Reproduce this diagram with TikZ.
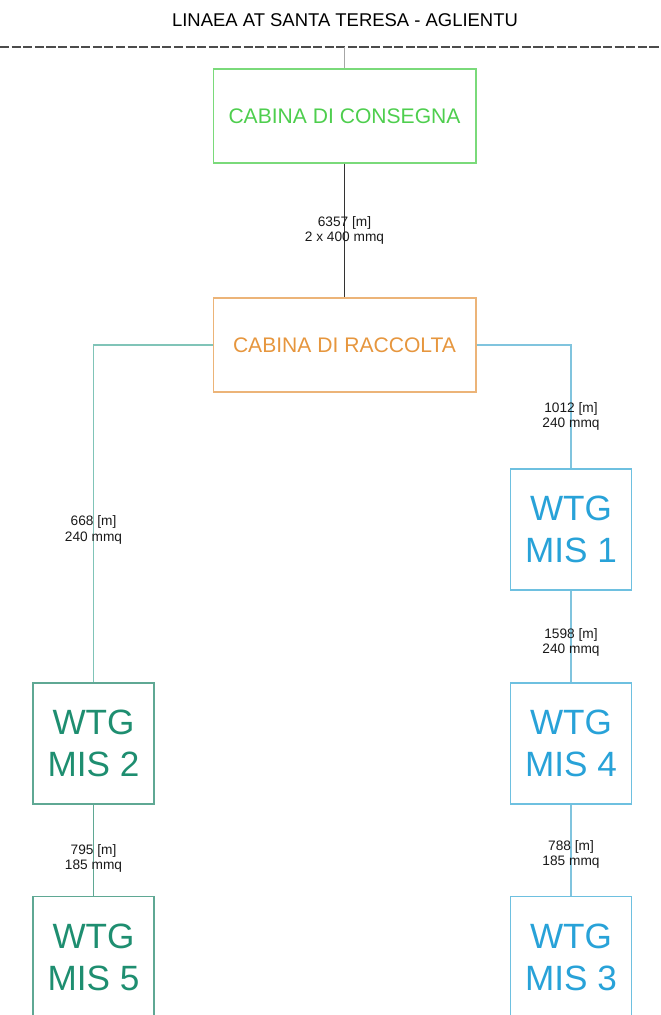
\documentclass[tikz,border=0pt]{standalone}
\usepackage{fontspec}
\setmainfont{Liberation Sans}
\usepackage{tikz}
\usetikzlibrary{positioning}

\definecolor{consegna}{RGB}{78,206,78}
\definecolor{raccolta}{RGB}{230,150,62}
\definecolor{raccline}{RGB}{236,180,120}
\definecolor{misblue}{RGB}{40,162,216}
\definecolor{blueline}{RGB}{110,192,224}
\definecolor{misteal}{RGB}{30,142,112}
\definecolor{tealline}{RGB}{95,168,148}
\definecolor{leftwire}{RGB}{128,196,184}
\definecolor{rightwire}{RGB}{128,196,222}

\begin{document}
\begin{tikzpicture}[x=0.02cm,y=-0.02cm,
  cabina/.style={draw, line width=0.6pt, minimum width=5.26cm, minimum height=1.88cm,
    font=\fontsize{12}{14}\selectfont},
  wtg/.style={draw, line width=0.6pt, minimum width=2.42cm, minimum height=2.42cm,
    align=center, font=\fontsize{20}{24}\selectfont},
  cavo/.style={fill=none, align=center, inner sep=0pt, text=black!90,
    font=\fontsize{7.8}{8.6}\selectfont}]
  \useasboundingbox (0,0) rectangle (660,1015);
  % titolo e sbarra
  \node (titolo) at (345,20) {\fontsize{10.5}{13}\selectfont LINAEA AT SANTA TERESA - AGLIENTU};
  \coordinate (sbarraW) at (0,47);
  \coordinate (sbarraE) at (660,47);
  \draw[black!70, line width=0.6pt, dash pattern=on 5.2pt off 1.4pt] (sbarraW) -- (sbarraE);
  \coordinate (bus) at (344.5,47);
  % cabine
  \node[cabina, draw=consegna!75, text=consegna] (cons) at (344.5,116) {CABINA DI CONSEGNA};
  \node[cabina, draw=raccline, text=raccolta] (racc) at (344.5,345) {CABINA DI RACCOLTA};
  % aerogeneratori
  \node[wtg, draw=blueline, text=misblue] (mis1) at (571,529.5) {WTG\\MIS 1};
  \node[wtg, draw=blueline, text=misblue] (mis4) at (571,743.5) {WTG\\MIS 4};
  \node[wtg, draw=blueline, text=misblue] (mis3) at (571,957) {WTG\\MIS 3};
  \node[wtg, draw=tealline, text=misteal] (mis2) at (93.5,743.5) {WTG\\MIS 2};
  \node[wtg, draw=tealline, text=misteal] (mis5) at (93.5,957) {WTG\\MIS 5};
  % collegamenti
  \draw[black!35, line width=0.5pt] (bus) -- (cons.north);
  \draw[black!80, line width=0.7pt] (cons.south) -- node[cavo] {6357 [m]\\2 x 400 mmq} (racc.north);
  \draw[leftwire, line width=0.8pt] (racc.west) -| node[cavo, pos=0.774] {668 [m]\\240 mmq} (mis2.north);
  \draw[rightwire, line width=0.8pt] (racc.east) -| node[cavo, pos=0.79] {1012 [m]\\240 mmq} (mis1.north);
  \draw[rightwire, line width=0.8pt] (mis1.south) -- node[cavo, pos=0.56] {1598 [m]\\240 mmq} (mis4.north);
  \draw[rightwire, line width=0.8pt] (mis4.south) -- node[cavo, pos=0.55] {788 [m]\\185 mmq} (mis3.north);
  \draw[tealline, line width=0.8pt] (mis2.south) -- node[cavo, pos=0.59] {795 [m]\\185 mmq} (mis5.north);
\end{tikzpicture}
\end{document}
